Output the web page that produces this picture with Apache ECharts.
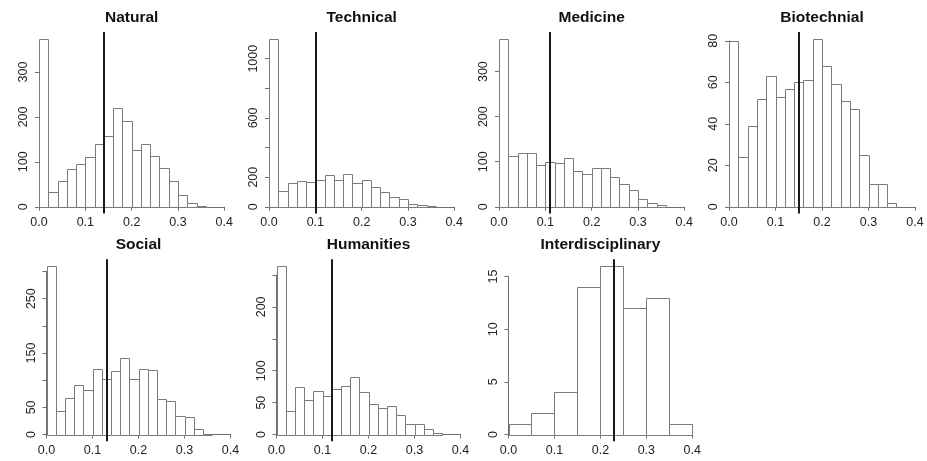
<!DOCTYPE html>
<html><head><meta charset="utf-8">
<script src="https://cdn.jsdelivr.net/npm/echarts@6/dist/echarts.min.js"></script>
<style>html,body{margin:0;padding:0;background:#fff}#c{width:927px;height:461px}</style>
</head><body><div id="c"></div>
<script>
// ---------- data ----------
const panelTitles = ['Natural', 'Technical', 'Medicine', 'Biotechnial', 'Social', 'Humanities', 'Interdisciplinary'];
const narrowBreaks = [0, 0.02, 0.04, 0.06, 0.08, 0.10, 0.12, 0.14, 0.16, 0.18, 0.20, 0.22, 0.24, 0.26, 0.28, 0.30, 0.32, 0.34, 0.36];
const wideBreaks = [0, 0.05, 0.10, 0.15, 0.20, 0.25, 0.30, 0.35, 0.40];
const naturalCounts = [374, 33, 57, 85, 95, 111, 139, 157, 220, 191, 126, 139, 113, 87, 57, 26, 9, 2];
const technicalCounts = [1135, 108, 160, 171, 166, 180, 213, 184, 220, 160, 182, 135, 99, 63, 54, 16, 13, 4];
const medicineCounts = [373, 112, 119, 120, 92, 100, 98, 108, 79, 72, 87, 86, 65, 50, 37, 18, 8, 3];
const biotechnialCounts = [80, 24, 39, 52, 63, 53, 57, 60, 61, 81, 68, 59, 51, 47, 25, 11, 11, 2];
const socialCounts = [310, 43, 68, 92, 82, 120, 102, 117, 141, 102, 121, 118, 66, 62, 34, 32, 10, 1];
const humanitiesCounts = [264, 37, 75, 54, 69, 61, 71, 76, 90, 66, 48, 42, 45, 30, 17, 17, 8, 2];
const interdisciplinaryCounts = [1, 2, 4, 14, 16, 12, 13, 1];
const meanValues = [0.138, 0.096, 0.108, 0.150, 0.134, 0.116, 0.234];
const xTickLabels = ['0.0', '0.1', '0.2', '0.3', '0.4'];
const naturalYLabels = ['0', '100', '200', '300'];
const technicalYLabels = ['0', '200', '', '600', '', '1000'];
const medicineYLabels = ['0', '100', '200', '300'];
const biotechnialYLabels = ['0', '20', '40', '60', '80'];
const socialYLabels = ['0', '50', '', '150', '', '250', ''];
const humanitiesYLabels = ['0', '50', '100', '', '200', ''];
const interdisciplinaryYLabels = ['0', '5', '10', '15'];
const yTickSteps = [100, 200, 100, 20, 50, 50, 5];

// ---------- layout (pixels) ----------
const panels = [
  {counts: naturalCounts, breaks: narrowBreaks, yl: naturalYLabels, x0: 39, x4: 224.3, top: 32, bottom: 213.5},
  {counts: technicalCounts, breaks: narrowBreaks, yl: technicalYLabels, x0: 269, x4: 454.3, top: 32, bottom: 213.5},
  {counts: medicineCounts, breaks: narrowBreaks, yl: medicineYLabels, x0: 499, x4: 684.3, top: 32, bottom: 213.5},
  {counts: biotechnialCounts, breaks: narrowBreaks, yl: biotechnialYLabels, x0: 729, x4: 915, top: 32, bottom: 213.5},
  {counts: socialCounts, breaks: narrowBreaks, yl: socialYLabels, x0: 46.5, x4: 230.5, top: 259.3, bottom: 441.3},
  {counts: humanitiesCounts, breaks: narrowBreaks, yl: humanitiesYLabels, x0: 276.5, x4: 460.5, top: 259.3, bottom: 441.3},
  {counts: interdisciplinaryCounts, breaks: wideBreaks, yl: interdisciplinaryYLabels, x0: 508.5, x4: 692.3, top: 259.3, bottom: 441.3}
];

const FONT = '"Liberation Sans", Arial, sans-serif';
const grids = [], xAxes = [], yAxes = [], series = [], titles = [];

panels.forEach((p, i) => {
  const ppu = (p.x4 - p.x0) / 0.4;
  const left = p.x0 - 0.016 * ppu;
  const width = 0.432 * ppu;
  const H = p.bottom - p.top;
  const M = Math.max(...p.counts);
  const yPerUnit = H / (1.08 * M);
  const y0 = p.bottom - 0.04 * M * yPerUnit;
  const step = yTickSteps[i];
  const lastTick = step * (p.yl.length - 1);
  const yLast = y0 - lastTick * yPerUnit;

  // data grid (R plot region)
  const gd = grids.length;
  grids.push({left: left, top: p.top, width: width, height: H, containLabel: false, outerBoundsMode: 'none'});
  xAxes.push({gridIndex: gd, type: 'value', min: -0.016, max: 0.416, show: false});
  yAxes.push({gridIndex: gd, type: 'value', min: -0.04 * M, max: 1.04 * M, show: false});
  const xa = xAxes.length - 1, ya = yAxes.length - 1;

  // axis grid (R axes span first..last tick)
  const ga = grids.length;
  grids.push({left: p.x0, top: yLast, width: p.x4 - p.x0, height: y0 - yLast, containLabel: false, outerBoundsMode: 'none'});
  xAxes.push({
    gridIndex: ga, type: 'value', min: 0, max: 0.4, interval: 0.1, position: 'bottom',
    offset: p.bottom - y0,
    axisLine: {show: true, lineStyle: {color: '#6f6f6f', width: 1}},
    axisTick: {show: true, length: 4, lineStyle: {color: '#6f6f6f'}},
    splitLine: {show: false},
    axisLabel: {show: true, margin: 3, color: '#222', fontFamily: FONT, fontSize: 12.5,
      formatter: v => xTickLabels[Math.round(v / 0.1)]}
  });
  yAxes.push({
    gridIndex: ga, type: 'value', min: 0, max: lastTick, interval: step, position: 'left',
    offset: p.x0 - left,
    axisLine: {show: true, lineStyle: {color: '#6f6f6f', width: 1}},
    axisTick: {show: true, length: 4, lineStyle: {color: '#6f6f6f'}},
    splitLine: {show: false},
    axisLabel: {show: true, margin: 1.5, rotate: 90, color: '#222', fontFamily: FONT, fontSize: 12.5,
      formatter: v => p.yl[Math.round(v / step)]}
  });

  const bins = p.counts.map((c, k) => [p.breaks[k], p.breaks[k + 1], c]);
  series.push({
    type: 'custom', xAxisIndex: xa, yAxisIndex: ya, data: bins, silent: true,
    renderItem: (params, api) => {
      const a = api.coord([api.value(0), 0]);
      const b = api.coord([api.value(1), api.value(2)]);
      const x1 = Math.round(a[0]) + 0.5, x2 = Math.round(b[0]) + 0.5;
      const yb = Math.round(a[1]) + 0.5, yt = Math.round(b[1]) + 0.5;
      return {type: 'rect', shape: {x: x1, y: yt, width: x2 - x1, height: yb - yt},
        style: {fill: '#fff', stroke: '#7a7a7a', lineWidth: 1}};
    }
  });
  series.push({
    type: 'scatter', xAxisIndex: xa, yAxisIndex: ya, data: [[meanValues[i], 0]], symbolSize: 0, silent: true,
    markLine: {symbol: 'none', silent: true, label: {show: false},
      lineStyle: {color: '#1a1a1a', width: 2, type: 'solid'},
      data: [{xAxis: meanValues[i]}]}
  });

  titles.push({
    text: panelTitles[i], left: left + width / 2, top: (i < 4 ? 17.3 : 245) - 9, textAlign: 'center', padding: 0,
    textStyle: {fontFamily: FONT, fontWeight: 'bold', fontSize: 15.5, color: '#111', lineHeight: 18}
  });
});

const chart = echarts.init(document.getElementById('c'), null, {renderer: 'canvas'});
chart.setOption({
  animation: false,
  backgroundColor: '#fff',
  title: titles,
  grid: grids,
  xAxis: xAxes,
  yAxis: yAxes,
  series: series
});
</script>
</body></html>
